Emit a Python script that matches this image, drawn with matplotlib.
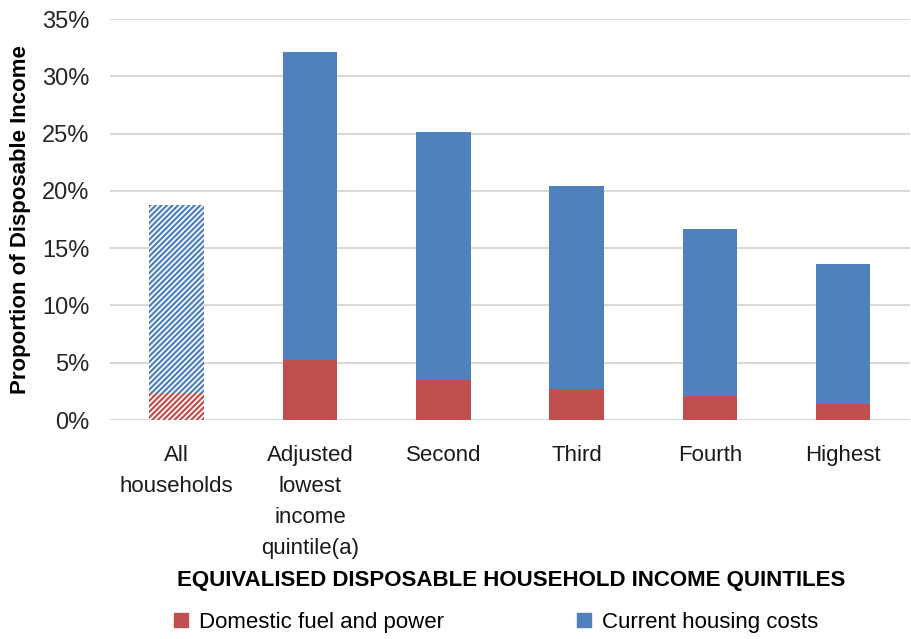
import matplotlib
matplotlib.use("Agg")
import matplotlib.pyplot as plt
from matplotlib.patches import Patch
from matplotlib.ticker import FuncFormatter

plt.rcParams['font.family'] = ['Liberation Sans', 'DejaVu Sans']
plt.rcParams['hatch.linewidth'] = 1.6

categories = ["All\nhouseholds", "Adjusted\nlowest\nincome\nquintile(a)", "Second", "Third", "Fourth", "Highest"]
fuel = [2.4, 5.2, 3.5, 2.7, 2.1, 1.4]
housing = [16.4, 26.9, 21.6, 17.7, 14.6, 12.2]

red = "#C0504D"
blue = "#4F81BD"

fig = plt.figure(figsize=(9.12, 6.39), dpi=100)
ax = fig.add_axes([0.1206, 0.3427, 0.877, 0.6275])

x = list(range(len(categories)))
w = 0.41
for i in x:
    if i == 0:
        ax.bar(i, fuel[i], w, facecolor="white", edgecolor=red, hatch="//////", linewidth=0)
        ax.bar(i, housing[i], w, bottom=fuel[i], facecolor="white", edgecolor=blue, hatch="//////", linewidth=0)
    else:
        ax.bar(i, fuel[i], w, color=red, linewidth=0)
        ax.bar(i, housing[i], w, bottom=fuel[i], color=blue, linewidth=0)

ax.set_ylim(0, 35)
ax.set_xlim(-0.5, len(categories) - 0.5)
ax.set_yticks(range(0, 36, 5))
ax.yaxis.set_major_formatter(FuncFormatter(lambda v, p: f"{int(v)}%"))
ax.grid(axis='y', color="#D9D9D9", linewidth=1.5)
ax.set_axisbelow(True)
for s in ax.spines.values():
    s.set_visible(False)
ax.tick_params(axis='y', length=0, labelsize=17, colors="#262626", pad=15)
ax.tick_params(axis='x', length=0, labelsize=16, colors="#1a1a1a", pad=18)
ax.set_xticks(x)
ax.set_xticklabels(categories, linespacing=1.62, va='top')

fig.text(0.022, 0.657, "Proportion of Disposable Income", rotation=90,
         ha='center', va='center', fontsize=16, fontweight='bold')
fig.text(0.56, 0.0923, "EQUIVALISED DISPOSABLE HOUSEHOLD INCOME QUINTILES",
         ha='center', va='center', fontsize=16, fontweight='bold')

handles = [Patch(color=red, label="Domestic fuel and power"),
           Patch(color=blue, label="Current housing costs")]
fig.legend(handles=handles, loc='center', bbox_to_anchor=(0.544, 0.026), ncol=2,
           frameon=False, fontsize=16, handlelength=0.6, handleheight=0.6,
           handletextpad=0.5, columnspacing=6)

fig.savefig("out.png", dpi=100)
